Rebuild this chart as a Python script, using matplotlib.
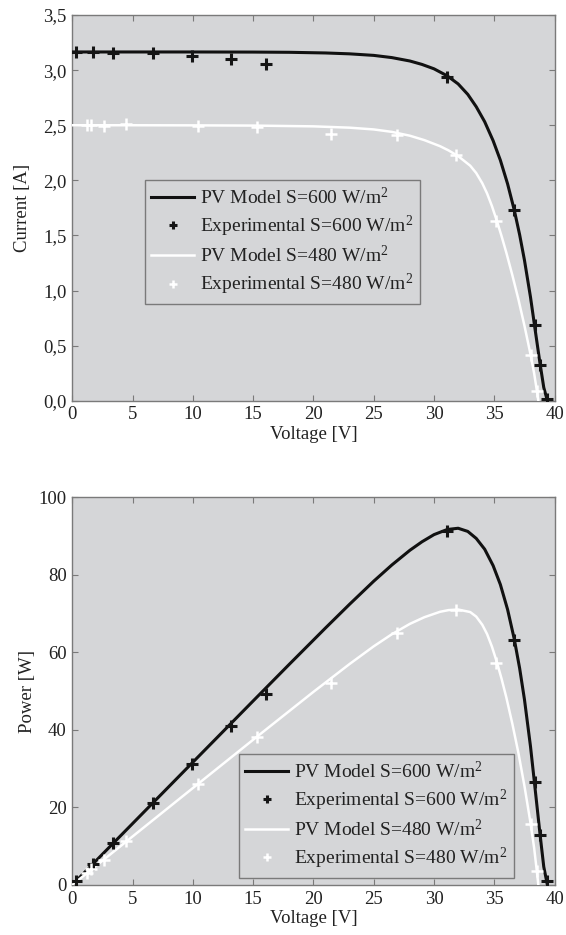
import numpy as np
import matplotlib
matplotlib.use("Agg")
import matplotlib.pyplot as plt

plt.rcParams["font.family"] = ["Liberation Serif", "DejaVu Serif"]
plt.rcParams["mathtext.fontset"] = "custom"
plt.rcParams["mathtext.rm"] = "Liberation Serif"
plt.rcParams["mathtext.it"] = "Liberation Serif:italic"

# --- measured points, S = 600 W/m2 ---
v_exp_600 = [0.30, 1.71, 3.39, 6.68, 9.95, 13.18, 16.09, 31.07, 36.6, 38.35, 38.8, 39.4]
i_exp_600 = [3.163, 3.163, 3.154, 3.154, 3.124, 3.10, 3.054, 2.934, 1.732, 0.69, 0.327, 0.02]
p_exp_600 = [1.0, 5.4, 10.7, 21.1, 31.1, 40.9, 49.2, 91.4, 63.3, 26.6, 12.8, 1.0]

# --- measured points, S = 480 W/m2 ---
v_exp_480 = [1.20, 1.59, 2.61, 4.49, 10.40, 15.34, 21.48, 26.97, 31.85, 35.12, 38.0, 38.5]
i_exp_480 = [2.506, 2.50, 2.497, 2.509, 2.497, 2.485, 2.422, 2.407, 2.229, 1.63, 0.417, 0.09]
p_exp_480 = [3.0, 4.0, 6.5, 11.3, 26.0, 38.1, 52.0, 64.9, 71.0, 57.2, 15.8, 3.5]

# --- PV model curves ---
v_mod_600 = [0, 5, 10, 15, 18, 21, 23, 25, 26.5, 28, 29, 30, 31.1, 32.0, 32.8, 33.5,
             34.2, 34.9, 35.5, 36.1, 36.65, 37.1, 37.5, 38.0, 38.35, 38.8, 39.1, 39.4]
i_mod_600 = [3.165, 3.165, 3.165, 3.164, 3.162, 3.156, 3.148, 3.134, 3.114, 3.083, 3.052, 3.012,
             2.948, 2.875, 2.78, 2.668, 2.532, 2.36, 2.183, 1.968, 1.732, 1.506, 1.275, 0.94,
             0.671, 0.33, 0.12, 0.0]

v_mod_480 = [0, 5, 10, 15, 20, 23, 25, 26.5, 28, 29.2, 30.5, 31.2, 32.0, 33.0, 33.5, 34.0,
             34.4, 34.8, 35.2, 35.6, 36.0, 36.5, 37.0, 37.5, 38.0, 38.3, 38.5, 38.65]
i_mod_480 = [2.50, 2.50, 2.499, 2.497, 2.49, 2.478, 2.462, 2.44, 2.405, 2.365, 2.31, 2.272,
             2.22, 2.133, 2.066, 1.974, 1.881, 1.767, 1.636, 1.494, 1.342, 1.137, 0.919,
             0.68, 0.421, 0.25, 0.11, 0.0]

p_mod_600 = np.multiply(v_mod_600, i_mod_600)
p_mod_480 = np.multiply(v_mod_480, i_mod_480)

v_ticks = [0, 5, 10, 15, 20, 25, 30, 35, 40]
i_ticks = [0, 0.5, 1.0, 1.5, 2.0, 2.5, 3.0, 3.5]
i_tick_labels = ["0,0", "0,5", "1,0", "1,5", "2,0", "2,5", "3,0", "3,5"]
p_ticks = [0, 20, 40, 60, 80, 100]

labels = ["PV Model S=600 W/m$^{2}$", "Experimental S=600 W/m$^{2}$",
          "PV Model S=480 W/m$^{2}$", "Experimental S=480 W/m$^{2}$"]

BG = "#d5d6d8"
EDGE = "#7a7a7a"
TXT = "#222222"
FS = 13.5

fig = plt.figure(figsize=(5.66, 9.35), dpi=100)
ax1 = fig.add_axes([0.1276, 0.5714, 0.8523, 0.4125])
ax2 = fig.add_axes([0.1276, 0.0535, 0.8523, 0.4147])


def style(ax):
    ax.set_facecolor(BG)
    for s in ax.spines.values():
        s.set_color(EDGE)
        s.set_linewidth(1.0)
    ax.tick_params(direction="in", length=4, width=0.8, color=EDGE,
                   top=True, right=True, labelsize=FS, labelcolor=TXT, pad=4)
    ax.set_xlim(0, 40)
    ax.set_xticks(v_ticks)
    ax.set_xlabel("Voltage [V]", fontsize=FS, color=TXT, labelpad=2)


def draw(ax, y_mod_600, y_exp_600, y_mod_480, y_exp_480):
    h1, = ax.plot(v_mod_600, y_mod_600, color="#111111", lw=2.2, zorder=3)
    h2, = ax.plot(v_exp_600, y_exp_600, ls="none", marker="+", ms=8, mew=2.2,
                  color="#151515", zorder=4)
    h3, = ax.plot(v_mod_480, y_mod_480, color="white", lw=1.8, zorder=3)
    h4, = ax.plot(v_exp_480, y_exp_480, ls="none", marker="+", ms=8, mew=1.8,
                  color="white", zorder=4)
    return [h1, h2, h3, h4]


def legend(ax, handles, anchor):
    leg = ax.legend(handles, labels, loc="upper left", bbox_to_anchor=anchor,
                    borderaxespad=0, fontsize=14, frameon=True, fancybox=False,
                    facecolor=BG, edgecolor=EDGE, framealpha=1, handlelength=2.2,
                    handletextpad=0.3, labelspacing=0.3, borderpad=0.35,
                    markerscale=0.75)
    leg.get_frame().set_linewidth(1.0)
    for t in leg.get_texts():
        t.set_color(TXT)


style(ax1)
hs = draw(ax1, i_mod_600, i_exp_600, i_mod_480, i_exp_480)
ax1.set_ylim(0, 3.5)
ax1.set_yticks(i_ticks)
ax1.set_yticklabels(i_tick_labels)
ax1.set_ylabel("Current [A]", fontsize=FS, color=TXT, labelpad=9)
legend(ax1, hs, (0.150, 0.572))

style(ax2)
hs = draw(ax2, p_mod_600, p_exp_600, p_mod_480, p_exp_480)
ax2.set_ylim(0, 100)
ax2.set_yticks(p_ticks)
ax2.set_ylabel("Power [W]", fontsize=FS, color=TXT, labelpad=2)
legend(ax2, hs, (0.345, 0.338))

fig.savefig("out.png", dpi=100, facecolor="white")
